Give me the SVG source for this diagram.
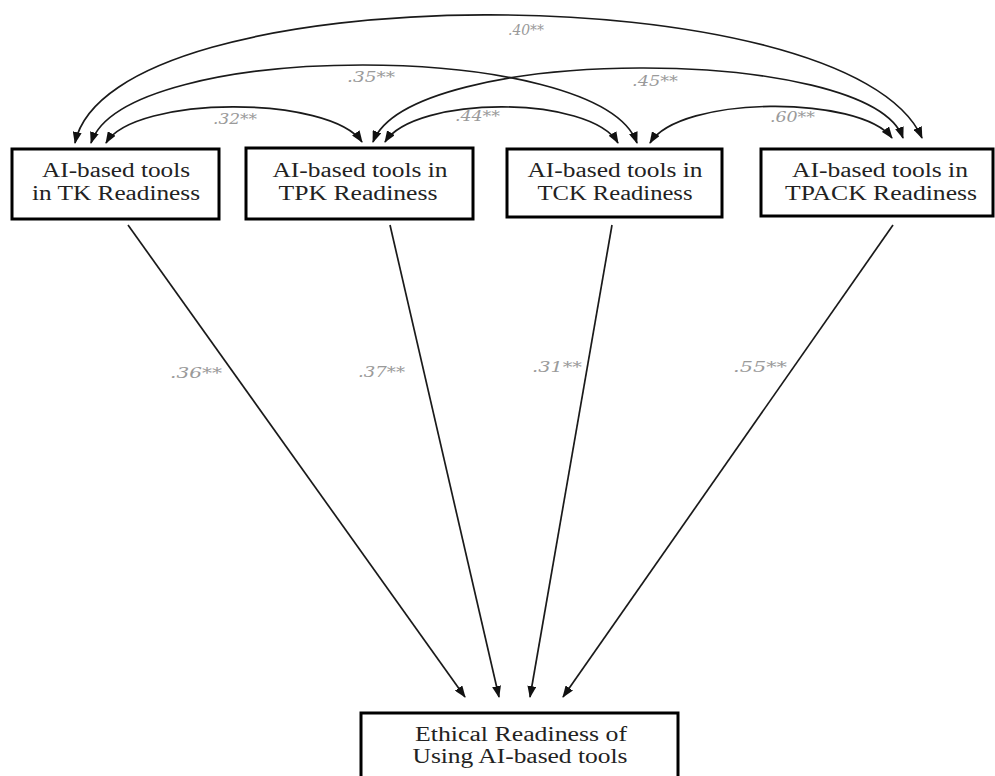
<svg xmlns="http://www.w3.org/2000/svg" width="995" height="776" viewBox="0 0 995 776">
  <defs>
    <marker id="ah" markerUnits="userSpaceOnUse" markerWidth="12" markerHeight="9" refX="11" refY="4.5" orient="auto-start-reverse">
      <path d="M0,0 L12,4.5 L0,9 z" fill="#111"/>
    </marker>
    <style>
      .box { fill: #fff; stroke: #000; stroke-width: 3; }
      .nt { font-size: 20px; fill: #222; text-anchor: middle; }
      .lbl { font-style: italic; font-size: 15px; fill: #9a9a9a; }
      .c { fill: none; stroke: #1a1a1a; stroke-width: 1.7; marker-start: url(#ah); marker-end: url(#ah); }
      .s { fill: none; stroke: #1a1a1a; stroke-width: 1.7; marker-end: url(#ah); }
    </style>
  </defs>
  <rect width="995" height="776" fill="#fff"/>

  <g id="connectors" font-family="DejaVu Serif, Liberation Serif, serif">
    <path class="c" d="M75,143 C110,-27 850,-27 922,138"/>
    <path class="c" d="M91,143 C125,39 600,39 637,143"/>
    <path class="c" d="M106,143 C135,95 330,95 362,142"/>
    <path class="c" d="M385,142 C415,95 590,95 618,143"/>
    <path class="c" d="M373,142 C410,44 870,44 903,138"/>
    <path class="c" d="M650,143 C680,95 860,95 892,138"/>
    <line class="s" x1="128" y1="225" x2="465" y2="697"/>
    <line class="s" x1="390" y1="225" x2="499" y2="697"/>
    <line class="s" x1="612" y1="225" x2="530" y2="697"/>
    <line class="s" x1="893" y1="225" x2="563" y2="697"/>
    <text class="lbl" x="508" y="35" textLength="36" lengthAdjust="spacingAndGlyphs">.40**</text>
    <text class="lbl" x="347" y="82" textLength="48" lengthAdjust="spacingAndGlyphs">.35**</text>
    <text class="lbl" x="213" y="124" textLength="44" lengthAdjust="spacingAndGlyphs">.32**</text>
    <text class="lbl" x="455" y="121" textLength="45" lengthAdjust="spacingAndGlyphs">.44**</text>
    <text class="lbl" x="632" y="86" textLength="46" lengthAdjust="spacingAndGlyphs">.45**</text>
    <text class="lbl" x="770" y="122" textLength="45" lengthAdjust="spacingAndGlyphs">.60**</text>
    <text class="lbl" x="170" y="378" textLength="52" lengthAdjust="spacingAndGlyphs">.36**</text>
    <text class="lbl" x="358" y="377" textLength="47" lengthAdjust="spacingAndGlyphs">.37**</text>
    <text class="lbl" x="532" y="372" textLength="50" lengthAdjust="spacingAndGlyphs">.31**</text>
    <text class="lbl" x="733" y="372" textLength="54" lengthAdjust="spacingAndGlyphs">.55**</text>
  </g>

  <g id="node-tk" font-family="Liberation Serif, DejaVu Serif, serif">
    <rect class="box" x="12" y="149" width="207" height="70"/>
    <text class="nt" x="116" y="177" textLength="148" lengthAdjust="spacingAndGlyphs">AI-based tools</text>
    <text class="nt" x="116" y="200" textLength="168" lengthAdjust="spacingAndGlyphs">in TK Readiness</text>
  </g>
  <g id="node-tpk" font-family="Liberation Serif, DejaVu Serif, serif">
    <rect class="box" x="246" y="148" width="227" height="71"/>
    <text class="nt" x="360" y="177" textLength="175" lengthAdjust="spacingAndGlyphs">AI-based tools in</text>
    <text class="nt" x="358" y="200" textLength="159" lengthAdjust="spacingAndGlyphs">TPK Readiness</text>
  </g>
  <g id="node-tck" font-family="Liberation Serif, DejaVu Serif, serif">
    <rect class="box" x="507" y="149" width="215" height="68"/>
    <text class="nt" x="615" y="177" textLength="175" lengthAdjust="spacingAndGlyphs">AI-based tools in</text>
    <text class="nt" x="615" y="200" textLength="155" lengthAdjust="spacingAndGlyphs">TCK Readiness</text>
  </g>
  <g id="node-tpack" font-family="Liberation Serif, DejaVu Serif, serif">
    <rect class="box" x="761" y="149" width="232" height="67"/>
    <text class="nt" x="880" y="177" textLength="176" lengthAdjust="spacingAndGlyphs">AI-based tools in</text>
    <text class="nt" x="881" y="200" textLength="192" lengthAdjust="spacingAndGlyphs">TPACK Readiness</text>
  </g>
  <g id="node-ethical" font-family="Liberation Serif, DejaVu Serif, serif">
    <rect class="box" x="361" y="713" width="317" height="80"/>
    <text class="nt" x="521" y="741" textLength="212" lengthAdjust="spacingAndGlyphs">Ethical Readiness of</text>
    <text class="nt" x="520" y="763" textLength="215" lengthAdjust="spacingAndGlyphs">Using AI-based tools</text>
  </g>
</svg>
